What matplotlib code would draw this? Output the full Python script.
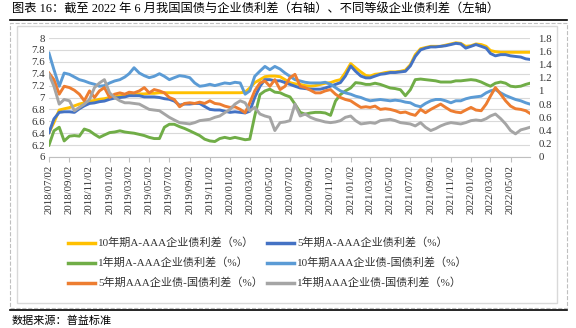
import numpy as np
import pandas as pd
import matplotlib.pyplot as plt
import matplotlib.dates as mdates
from matplotlib.lines import Line2D
from matplotlib.patches import Rectangle

plt.rcParams['font.family'] = ['Liberation Serif', 'Noto Sans CJK SC']

# 半月度观测日（每月2日、17日），最后一期为2022-06-30
months = pd.date_range('2018-07-01', '2022-06-01', freq='MS')
dates = []
for mo in months:
    dates += [mo + pd.Timedelta(days=1), mo + pd.Timedelta(days=16)]
dates.append(pd.Timestamp('2022-06-30'))

# 左轴：不同等级企业债利差
spread_10y_a_aaa = [
    6.41, 6.58, 6.79, 6.81, 6.83, 6.86, 6.89, 6.91, 6.94, 6.95,
    6.97, 6.98, 7.00, 7.01, 7.03, 7.04, 7.05, 7.05, 7.06, 7.06,
    7.07, 7.07, 7.08, 7.08, 7.08, 7.08, 7.08, 7.08, 7.08, 7.08,
    7.08, 7.08, 7.08, 7.08, 7.08, 7.08, 7.08, 7.08, 7.08, 7.09,
    7.16, 7.25, 7.30, 7.35, 7.36, 7.36, 7.35, 7.30, 7.25, 7.23,
    7.22, 7.20, 7.19, 7.20, 7.22, 7.24, 7.25, 7.28, 7.30, 7.42,
    7.57, 7.50, 7.43, 7.37, 7.36, 7.39, 7.40, 7.42, 7.43, 7.43,
    7.44, 7.46, 7.55, 7.72, 7.82, 7.84, 7.86, 7.86, 7.86, 7.88,
    7.90, 7.92, 7.91, 7.86, 7.87, 7.90, 7.89, 7.86, 7.79, 7.77,
    7.76, 7.76, 7.76, 7.76, 7.76, 7.76, 7.76]
spread_5y_a_aaa = [
    6.41, 6.64, 6.75, 6.76, 6.76, 6.75, 6.81, 6.86, 6.90, 6.91,
    6.93, 6.94, 6.97, 6.99, 7.00, 7.01, 7.03, 7.03, 7.03, 7.01,
    7.01, 7.01, 7.00, 6.98, 6.97, 6.94, 6.87, 6.89, 6.89, 6.90,
    6.90, 6.85, 6.80, 6.79, 6.79, 6.77, 6.75, 6.76, 6.75, 6.74,
    6.77, 7.00, 7.19, 7.30, 7.30, 7.28, 7.28, 7.25, 7.22, 7.19,
    7.16, 7.15, 7.14, 7.14, 7.14, 7.16, 7.19, 7.22, 7.25, 7.36,
    7.53, 7.44, 7.36, 7.33, 7.33, 7.36, 7.39, 7.40, 7.42, 7.42,
    7.43, 7.44, 7.53, 7.69, 7.80, 7.83, 7.85, 7.85, 7.86, 7.87,
    7.89, 7.91, 7.90, 7.83, 7.86, 7.89, 7.86, 7.83, 7.74, 7.70,
    7.72, 7.72, 7.70, 7.69, 7.68, 7.65, 7.64]
spread_1y_a_aaa = [
    6.20, 6.44, 6.50, 6.27, 6.35, 6.36, 6.35, 6.47, 6.44, 6.38,
    6.33, 6.37, 6.41, 6.42, 6.44, 6.42, 6.41, 6.40, 6.38, 6.36,
    6.33, 6.31, 6.31, 6.50, 6.55, 6.55, 6.51, 6.48, 6.44, 6.40,
    6.36, 6.30, 6.27, 6.26, 6.31, 6.33, 6.31, 6.33, 6.31, 6.29,
    6.30, 6.69, 7.05, 7.11, 7.14, 7.09, 7.08, 7.04, 7.01, 6.89,
    6.75, 6.72, 6.74, 6.75, 6.75, 6.74, 6.70, 6.94, 7.05, 7.11,
    7.16, 7.25, 7.24, 7.22, 7.22, 7.24, 7.22, 7.19, 7.16, 7.15,
    7.13, 7.03, 7.13, 7.30, 7.31, 7.30, 7.29, 7.28, 7.26, 7.26,
    7.26, 7.28, 7.28, 7.29, 7.30, 7.29, 7.26, 7.22, 7.19, 7.24,
    7.26, 7.24, 7.19, 7.18, 7.19, 7.22, 7.24]

# 右轴：AAA企业债-国债利差
spread_10y_aaa_gov = [
    1.57, 1.32, 1.07, 1.27, 1.25, 1.21, 1.17, 1.15, 1.12, 1.10,
    1.07, 1.08, 1.12, 1.15, 1.17, 1.21, 1.26, 1.35, 1.27, 1.23,
    1.20, 1.22, 1.26, 1.22, 1.17, 1.20, 1.23, 1.22, 1.20, 1.12,
    1.07, 1.08, 1.10, 1.08, 1.10, 1.12, 1.11, 1.13, 1.12, 0.95,
    1.00, 1.22, 1.30, 1.37, 1.32, 1.37, 1.33, 1.27, 1.22, 1.17,
    1.15, 1.13, 1.12, 1.12, 1.12, 1.13, 1.10, 1.05, 1.00, 0.97,
    0.95, 0.92, 0.90, 0.87, 0.85, 0.86, 0.87, 0.86, 0.85, 0.86,
    0.85, 0.83, 0.82, 0.78, 0.76, 0.81, 0.85, 0.87, 0.87, 0.85,
    0.82, 0.85, 0.85, 0.88, 0.90, 0.91, 0.92, 0.97, 1.00, 1.02,
    0.97, 0.93, 0.90, 0.87, 0.85, 0.82, 0.80]
spread_5y_aaa_gov = [
    1.27, 1.17, 0.95, 1.07, 1.05, 1.01, 0.95, 0.85, 1.00, 0.90,
    1.00, 1.05, 0.90, 0.95, 0.97, 0.95, 0.98, 0.97, 1.00, 1.05,
    0.97, 1.02, 1.00, 0.97, 0.90, 0.87, 0.76, 0.81, 0.82, 0.81,
    0.83, 0.81, 0.85, 0.81, 0.80, 0.77, 0.75, 0.76, 0.72, 0.67,
    0.82, 1.00, 1.12, 1.15, 1.07, 1.17, 1.02, 1.07, 1.20, 1.25,
    1.07, 1.05, 1.01, 0.97, 0.97, 1.00, 1.02, 0.95, 0.90, 0.87,
    0.85, 0.80, 0.75, 0.76, 0.75, 0.77, 0.72, 0.73, 0.72, 0.70,
    0.67, 0.68, 0.65, 0.63, 0.72, 0.67, 0.72, 0.76, 0.80, 0.75,
    0.70, 0.68, 0.67, 0.71, 0.75, 0.71, 0.70, 0.80, 0.92, 1.05,
    0.95, 0.85, 0.77, 0.73, 0.72, 0.70, 0.66]
spread_1y_aaa_gov = [
    1.25, 1.07, 0.80, 0.87, 0.85, 0.70, 0.75, 0.80, 0.87, 1.05,
    1.12, 1.17, 0.97, 0.90, 0.85, 0.82, 0.82, 0.81, 0.80, 0.76,
    0.72, 0.71, 0.70, 0.65, 0.60, 0.56, 0.52, 0.51, 0.50, 0.52,
    0.55, 0.56, 0.57, 0.60, 0.62, 0.67, 0.72, 0.80, 0.85, 0.82,
    0.70, 0.75, 0.65, 0.62, 0.60, 0.40, 0.52, 0.53, 0.55, 0.80,
    0.62, 0.65, 0.60, 0.57, 0.55, 0.53, 0.52, 0.53, 0.55, 0.60,
    0.62, 0.55, 0.50, 0.51, 0.52, 0.51, 0.55, 0.56, 0.57, 0.55,
    0.52, 0.51, 0.50, 0.47, 0.52, 0.45, 0.40, 0.43, 0.47, 0.50,
    0.52, 0.51, 0.50, 0.52, 0.55, 0.56, 0.55, 0.58, 0.62, 0.65,
    0.58, 0.50, 0.40, 0.35, 0.41, 0.43, 0.45]

labels = ['10年期A-AAA企业债利差（%）', '5年期A-AAA企业债利差（%）',
          '1年期A-AAA企业债利差（%）', '10年期AAA企业债-国债利差（%）',
          '5年期AAA企业债-国债利差（%）', '1年期AAA企业债-国债利差（%）']
colors = ['#FFC000', '#4472C4', '#70AD47', '#5B9BD5', '#ED7D31', '#A5A5A5']

W, H = 576, 328
fig = plt.figure(figsize=(W / 100, H / 100), dpi=100)

ax = fig.add_axes([49 / W, 1 - 157 / H, 481 / W, 119 / H])
ax2 = ax.twinx()

left_series = [spread_10y_a_aaa, spread_5y_a_aaa, spread_1y_a_aaa]
right_series = [spread_10y_aaa_gov, spread_5y_aaa_gov, spread_1y_aaa_gov]
for s, c in zip(left_series, colors[:3]):
    ax.plot(dates, s, color=c, lw=2.1, solid_joinstyle='round')
for s, c in zip(right_series, colors[3:]):
    ax2.plot(dates, s, color=c, lw=2.1, solid_joinstyle='round')

ax.set_ylim(6, 8)
ax.set_yticks(np.round(np.arange(6, 8.01, 0.2), 1))
ax.yaxis.set_major_formatter(lambda v, p: f'{v:g}')
ax2.set_ylim(0, 1.8)
ax2.set_yticks(np.round(np.arange(0, 1.81, 0.2), 1))
ax2.yaxis.set_major_formatter(lambda v, p: f'{v:g}')

ax.grid(axis='y', color='#D9D9D9', lw=0.8)
ax.set_axisbelow(True)
for side in ['left', 'right', 'top']:
    ax.spines[side].set_visible(False)
ax.spines['bottom'].set_color('#BFBFBF')
for side in ax2.spines:
    ax2.spines[side].set_visible(False)

ax.set_xlim(pd.Timestamp('2018-07-02'), pd.Timestamp('2022-06-30'))
ax.xaxis.set_major_locator(mdates.MonthLocator(bymonth=[1, 3, 5, 7, 9, 11], bymonthday=2))
ax.xaxis.set_major_formatter(mdates.DateFormatter('%Y/%m/%d'))
ax.tick_params(axis='x', rotation=90, length=3.5, color='#BFBFBF',
               labelsize=7.8, pad=2, labelcolor='#333333')
ax.tick_params(axis='y', length=0, pad=3, labelsize=7.8, labelcolor='#333333')
ax2.tick_params(axis='y', length=0, pad=6, labelsize=7.8, labelcolor='#333333')

# 图例：两列三行
for i, (lab, c) in enumerate(zip(labels, colors)):
    col, row = i % 2, i // 2
    x0 = [68, 267][col] / W
    yf = 1 - [243, 263, 283][row] / H
    fig.add_artist(Line2D([x0, x0 + 27 / W], [yf, yf], color=c, lw=2.5,
                          transform=fig.transFigure))
    fig.text(x0 + 30 / W, yf, lab, fontsize=8, va='center', color='#333333')

# 外框、内框与黑色分隔线
fig.add_artist(Rectangle((10 / W, 1 - 308 / H), 557 / W, 285 / H, fill=False,
                         ls='--', ec='#BFBFBF', lw=0.8, transform=fig.transFigure))
fig.add_artist(Rectangle((17 / W, 1 - 303 / H), 540 / W, 277 / H, fill=False,
                         ec='#D9D9D9', lw=1.0, transform=fig.transFigure))
for yl in [20, 310]:
    fig.add_artist(Line2D([10 / W, 567 / W], [1 - yl / H, 1 - yl / H], color='black',
                          lw=1.2, transform=fig.transFigure))

fig.text(12 / W, 1 - 10 / H,
         '图表 16：截至 2022 年 6 月我国国债与企业债利差（右轴）、不同等级企业债利差（左轴）',
         fontsize=8.8, va='center')
fig.text(12 / W, 1 - 321 / H, '数据来源：普益标准', fontsize=8, va='center')

fig.savefig('out.png', dpi=100)
